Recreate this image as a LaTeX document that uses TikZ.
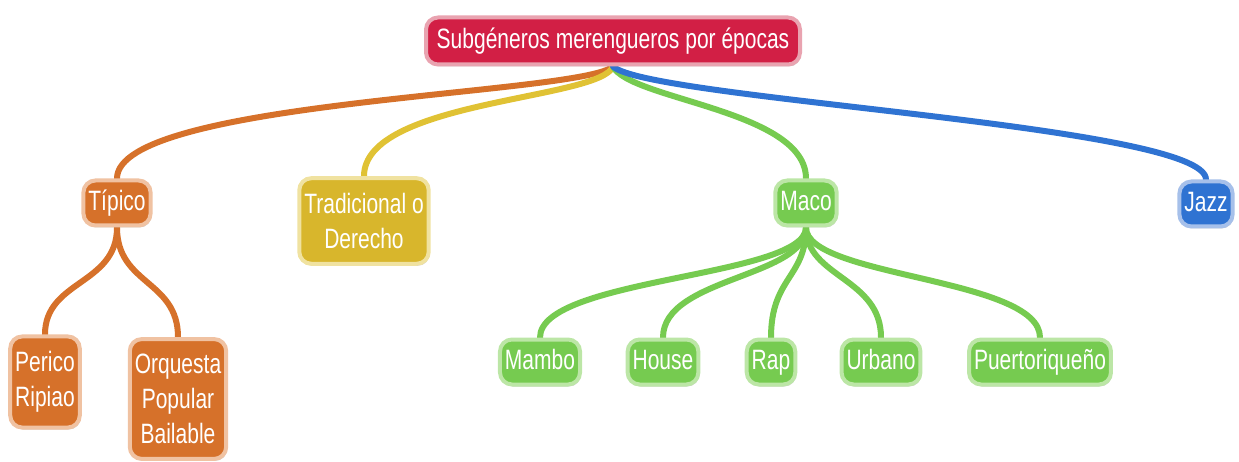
\documentclass[tikz,border=0pt]{standalone}
\usepackage{fontspec}
\setmainfont{Liberation Sans}[FakeStretch=0.75]
\usetikzlibrary{shadows,backgrounds}
\definecolor{rootfill}{HTML}{D21F45}
\definecolor{rootedge}{HTML}{E9A3B0}
\definecolor{orfill}{HTML}{D6712A}
\definecolor{oredge}{HTML}{F0C2A2}
\definecolor{yefill}{HTML}{D8B62C}
\definecolor{yeedge}{HTML}{F0E2A0}
\definecolor{yeline}{HTML}{E0C234}
\definecolor{grfill}{HTML}{76CB50}
\definecolor{gredge}{HTML}{BCE6A6}
\definecolor{blfill}{HTML}{2F73D2}
\definecolor{bledge}{HTML}{A6C0EA}
\tikzset{
  x=1pt,y=-1pt,
  box/.style={rounded corners=12pt, line width=4pt, text=white,
    font=\fontsize{28}{35}\selectfont, align=center, inner xsep=5pt, inner ysep=15pt,
    drop shadow={shadow xshift=1pt, shadow yshift=-2pt, opacity=0.35}},
  one/.style={text height=21pt, text depth=6pt, inner ysep=9pt},
  rootbox/.style={box, one, fill=rootfill, draw=rootedge, minimum width=374pt, inner ysep=10pt},
  orbox/.style={box, fill=orfill, draw=oredge},
  yebox/.style={box, fill=yefill, draw=yeedge},
  grbox/.style={box, one, fill=grfill, draw=gredge},
  blbox/.style={box, one, fill=blfill, draw=bledge},
  link/.style={line width=6pt, line cap=round},
}
\begin{document}
\begin{tikzpicture}
\useasboundingbox (0,0) rectangle (1239,462);
\node[rootbox] (root) at (613,41) {Subgéneros merengueros por épocas};
\node[orbox, one] (tipico) at (117,203) {Típico};
\node[yebox] (trad) at (364,221) {Tradicional o\\Derecho};
\node[grbox] (maco) at (806,203) {Maco};
\node[blbox] (jazz) at (1206,204) {Jazz};
\node[orbox] (perico) at (45,382) {Perico\\Ripiao};
\node[orbox] (orq) at (178,399) {Orquesta\\Popular\\Bailable};
\node[grbox] (mambo) at (540,362) {Mambo};
\node[grbox] (house) at (663,362) {House};
\node[grbox] (rap) at (771,362) {Rap};
\node[grbox] (urbano) at (881,362) {Urbano};
\node[grbox] (puerto) at (1040,362) {Puertoriqueño};
\begin{scope}[on background layer]
\draw[link, orfill] (root.south) .. controls (580,95) and (117,100) .. (tipico.north);
\draw[link, yeline] (root.south) .. controls (600,100) and (364,100) .. (trad.north);
\draw[link, grfill] (root.south) .. controls (630,100) and (806,110) .. (maco.north);
\draw[link, blfill] (root.south) .. controls (650,100) and (1206,125) .. (jazz.north);
\draw[link, orfill] (tipico.south) .. controls (117,285) and (45,280) .. (perico.north);
\draw[link, orfill] (tipico.south) .. controls (117,285) and (178,280) .. (orq.north);
\foreach \c in {mambo,house,rap,urbano,puerto}{
  \draw[link, grfill] (maco.south) .. controls ([yshift=-50pt]maco.south) and ([yshift=60pt]\c.north) .. (\c.north);
}
\end{scope}
\end{tikzpicture}
\end{document}
